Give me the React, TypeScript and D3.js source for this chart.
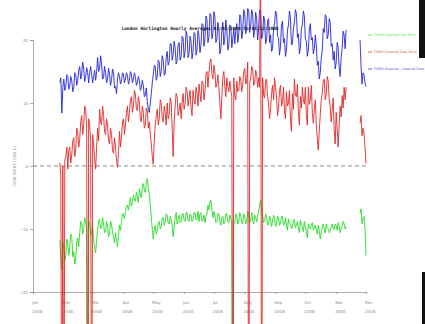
import React, { useEffect, useRef } from "react";
import * as d3 from "d3";

// daily readings from 28 Jan 2008 to 1 Dec 2008; null = no data
const startDate = new Date(2008, 0, 28);

const externalDew = [
  0.5, -1.5, -60, 0, -60, 1, 1.5, 3, -0.5, 2.5,
  3, 0.5, 1.8, 4, 4.5, 1.5, 2.5, 6, 5.5, 3,
  4.2, 7, 8, 5, 6.5, 9.5, 9, 6, -60, 7.5,
  6.5, 4, -60, 5, 3.5, 1, -0.5, 3, 6, 4,
  9, 7, 6.5, 9.5, 8, 5.5, 5, 7.5, 6.5, 4,
  3.5, 6, 5, 2.5, 2, 4.5, 3, 1, -0.2, 2,
  5.5, 3, 4.5, 7, 7.5, 5, 6.5, 8.5, 9.5, 7,
  8.5, 10.5, 11, 8.5, 9.5, 12, 11.5, 9, 8.8, 11,
  10, 7.5, 7, 9.5, 8.5, 6, 6.5, 9.2, 8.8, 6,
  7, 5, 3.5, 1.5, 0.3, 4, 6.5, 8, 9, 6.5,
  7.5, 10.5, 10, 7.5, 7, 9.5, 8.5, 6.5, 10, 7.5,
  8.2, 10.8, 10.2, 6, 1.5, 7, 9.5, 11.5, 11, 8,
  8.8, 10, 7.5, 10, 11.5, 9, 9.8, 12.5, 12, 9.5,
  10.8, 12, 9.2, 8, 12, 10.5, 9.8, 12.5, 11.5, 9.5,
  13, 11.5, 10.2, 13.5, 13.2, 10.5, 11.8, 14.5, 15, 12.5,
  14.8, 16.5, 17, 14.5, 13.8, 16, 15, 12.5, 13, 14.5,
  12.5, 10, 7.5, 11, 14.2, 15, 12.5, 11, 14, 12.5,
  11.8, 13.5, 12, 11, -60, 14, 11.2, 10.5, 13.5, 11.8,
  12, 14.2, 13.8, 11.8, 13, 15, 15.5, 13, 13.5, 16.5,
  -60, 13.2, 13.8, 15.8, 15.5, 12.8, 13.2, 15.2, 14.5, 12.5,
  14, 12.5, 40, -60, 14, 11.2, 10.8, 13.5, 13.8, 11,
  10, 7.5, 9, 11.5, 12.8, 10.5, 14, 12.5, 10.8, 8,
  9.2, 12, 12.8, 9.5, 10.2, 12.5, 8.8, 7.5, 11.8, 9.5,
  10, 12, 7.2, 5.5, 11.5, 9, 13.8, 11.2, 11, 13,
  8.5, 6.5, 11, 9.2, 12.5, 10.5, 9.8, 12.5, 8.2, 6.5,
  12.5, 9.8, 10.5, 12.8, 8.5, 6.8, 9, 10.5, 6.5, 4.5,
  2.5, 5.5, 8.2, 10.5, 11.5, 13.5, 13.8, 10.5, 11.5, 14.2,
  13.5, 10.5, 9.5, 7, 8.8, 10.8, 5.8, 3.5, 8.5, 6,
  3, 6.5, 9.5, 7.8, 11.2, 9.2, 12.5, 10.5, 12.5,
  null, null, null, null, null, null, null, null, null, null, null, null, null,
  6.8, 8, 4.8, 6, 5.2, 3, 0.4,
];

const internalDew = [
  -11.7, -14.5, -16.5, -12.2, -13, -15, -14.2, -11.6, -12.4, -14.2,
  -12.8, -10.8, -11.2, -14.4, -13.6, -15.6, -14.6, -12, -11.4, -12.8,
  -10.6, -8.8, -9.2, -10.8, -9.8, -8.2, -8.8, -10.2, -60, -8.6,
  -9.4, -11, -10.8, -9.6, -11.6, -13.2, -13.8, -11.8, -10.2, -8.8,
  -8.4, -10, -9.6, -8.2, -9.2, -10.6, -10.4, -8.8, -9.6, -11.2,
  -10.8, -8.8, -9.2, -10.6, -11.2, -12.2, -10.6, -11.8, -12.8, -11,
  -9.4, -10.2, -8.8, -7.6, -7.6, -8.4, -7.2, -6.4, -6.2, -7,
  -5.8, -5, -6.4, -5.6, -4.6, -5.4, -5.6, -4.2, -4.8, -5.8,
  -3.6, -4.4, -5, -3.4, -2.8, -3.8, -4.2, -2.6, -2, -3.4,
  -4.4, -6, -8.2, -10, -11.6, -10.2, -9.4, -10.8, -10.4, -9,
  -8.8, -10, -9.6, -8.2, -8.2, -9.4, -8.8, -7.6, -7.8, -9,
  -9.2, -8, -8.4, -9.4, -11.2, -9.6, -8.2, -7.4, -9.2, -8.4,
  -7.8, -9, -8.8, -7.6, -7.6, -8.6, -8.8, -7.4, -7.4, -8.6,
  -8.8, -7.6, -7.8, -8.8, -8.6, -7.4, -7.4, -8.6, -8.4, -7.2,
  -8.8, -7.6, -7.4, -8.8, -8.6, -7.8, -9, -8, -7.6, -6.2,
  -7, -5.6, -5.4, -7, -8.2, -7.2, -7.8, -9, -8.8, -7.6,
  -7.6, -8.8, -9.4, -8.2, -8, -9.2, -8.8, -7.6, -7.6, -8.8,
  -9, -7.8, -8.4, -8.6, -60, -9, -9, -7.6, -7.9, -9.2,
  -8.8, -7.4, -7.8, -9, -9.2, -7.6, -7.9, -9.2, -8.8, -7.2,
  -7.6, -9, -8.8, -7.4, -8.6, -9.2, -7.8, -8.2, -8.9, -7.8,
  -7.2, -6.2, -5.4, -7, -7.8, -9, -8.8, -7.6, -8.2, -9.4,
  -9.2, -8, -8.4, -9.6, -8.8, -7.8, -8.2, -9.6, -9.2, -8,
  -8.2, -9.4, -9.1, -8, -8, -9.4, -9.2, -8.2, -9.4, -10.2,
  -8.4, -9, -9.3, -10, -9.6, -8.6, -8.5, -9.8, -9.4, -8.8,
  -9.8, -10.6, -8.6, -9.2, -9.6, -10.4, -8.8, -9.6, -10.4, -11.4,
  -9.2, -9.6, -10, -9.4, -9, -10.2, -9.8, -9.4, -10.2, -10.8,
  -9.4, -10.2, -11.6, -10.4, -9.8, -9.2, -10, -10.6, -9.2, -9.8,
  -10, -10.6, -10.4, -9.6, -9.2, -10, -10.1, -9.2, -9.4, -10.2,
  -9, -9.6, -10.6, -9.8, -9.6, -8.8, -9.2, -10, -9.6,
  null, null, null, null, null, null, null, null, null, null, null, null, null,
  -7.6, -6.8, -9.2, -8.2, -8, -10, -14.2,
];

const differenceDew = [
  13.2, 14, 8.4, 12.5, 13.8, 12, 12.5, 14.5, 14.2, 12.2,
  12.8, 14.2, 13.5, 11.8, 12.4, 14.8, 14.5, 12.8, 13.6, 15.2,
  15.8, 13.8, 14.6, 16.5, 15.4, 13.4, 14.2, 15.6, 14.8, 13.2,
  14.8, 15.8, 14.5, 13.2, 14.2, 15.2, 13.6, 15, 17.2, 15,
  15.5, 17.5, 16.2, 13.8, 14, 15.8, 14.8, 13.2, 13.8, 15.5,
  14.6, 12.8, 13.6, 15.4, 14.8, 12.4, 12.6, 11.5, 13.8, 14.8,
  14.2, 13, 13.4, 14.8, 14.6, 13.2, 13.8, 14.8, 14.4, 13,
  13.6, 15, 14.6, 13.2, 13.8, 14.8, 14.2, 12.8, 13.2, 14.2,
  13.6, 12, 12.4, 13.6, 12.8, 11, 11.2, 12.4, 10.2, 9,
  8.5, 10, 11.5, 13.2, 14.5, 16, 15.8, 13.6, 14.2, 16.8,
  16.5, 14.2, 15, 17.5, 16.8, 14.4, 14.6, 17.2, 18.2, 16,
  16.6, 19.4, 19.4, 16.8, 17.6, 19.8, 18.8, 16.2, 16.8, 19.2,
  19.6, 16.8, 17.4, 20.6, 20.4, 17.2, 18.2, 21.4, 20.8, 17.2,
  17.8, 20.6, 19.8, 17, 18.2, 21.2, 21, 17.6, 18.4, 21.5,
  20.6, 18, 19.2, 22.6, 22.4, 19, 20.2, 23.8, 23.2, 19.6,
  20.6, 24.2, 24, 20.2, 21.2, 24.5, 23.6, 19.6, 20.2, 22.8,
  21.8, 17.8, 18.6, 21.6, 22.8, 19.2, 20.4, 23.2, 21.6, 18.4,
  19.2, 22.4, 22.2, 18.8, 20.2, 21.8, 19.4, 21.6, 22.6, 19.6,
  21, 24, 23.8, 20.2, 21.4, 24.8, 24.2, 21, 22, 25,
  24.6, 21.2, 22.2, 24.8, 24, 20.4, 21.6, 24.4, 23.4, 20,
  21.8, 24.8, 24.4, 20.2, 20.6, 23.8, 23.2, 19.4, 20, 23,
  23.4, 19.6, 20.8, 18.2, 18.6, 21.8, 22.6, 24.6, 24.2, 20.6,
  20.4, 17.6, 19, 22.4, 23, 19.6, 20.2, 17.4, 18.4, 21.6,
  22.4, 24.6, 23.6, 19.2, 19.4, 21.8, 22.8, 24.8, 24.2, 20.4,
  21, 17.8, 18.8, 21.8, 22.4, 24.6, 23.8, 20.2, 19.8, 17.4,
  18.4, 21.6, 22.6, 20, 20.4, 17.8, 18.6, 20.8, 19.2, 16,
  16.6, 13.8, 14.8, 17.2, 18.4, 21.8, 21.2, 24, 23.6, 20.2,
  20.8, 23.4, 22.8, 19, 19.4, 16.8, 18.2, 15.4, 16.4, 19.6,
  18.8, 15.6, 14.2, 17.2, 18.6, 21.4, 20.8, 18.6, 21.6,
  null, null, null, null, null, null, null, null, null, null, null, null, null,
  20, 16, 13, 14.8, 14.4, 13.2, 12.6,
];

const yTicks = [20, 10, 0, -10, -20];
const legendLabels = [
  "FDMS Internal Dew Point",
  "FDMS External Dew Point",
  "FDMS External - Internal Dew Point",
];
const title = "London Harlington Hourly Averages 01/01/2008 to 01/12/2008";
const yLabel = "DEW POINT (DEG C)";

const App = () => {
  const ref = useRef(null);

  useEffect(() => {
    const svg = d3.select(ref.current);
    svg.selectAll("*").remove();

    const width = 425, height = 324;
    svg.attr("width", width).attr("height", height)
      .style("position", "absolute").style("left", 0).style("top", 0);

    const x = d3
      .scaleTime()
      .domain([new Date(2008, 0, 1), new Date(2008, 11, 1)])
      .range([33, 366]);
    const y = d3.scaleLinear().domain([-20, 20]).range([292, 40]);

    const dates = externalDew.map((_, i) => d3.timeDay.offset(startDate, i));

    svg.append("rect").attr("width", width).attr("height", height).attr("fill", "#fff");

    const grey = "#8a8a8a";

    // y axis
    const yAxis = svg.append("g").attr("transform", `translate(${x.range()[0]},0)`)
      .call(d3.axisLeft(y).tickValues(yTicks).tickSize(3).tickPadding(2).tickFormat(d3.format("d")));
    yAxis.select(".domain").attr("stroke", grey).attr("stroke-width", 0.7);
    yAxis.selectAll(".tick line").attr("stroke", grey).attr("stroke-width", 0.7);
    yAxis.selectAll("text").attr("fill", grey).attr("font-size", 4).attr("font-family", "DejaVu Sans");

    svg.append("text")
      .attr("transform", `translate(16,${y(0)}) rotate(-90)`)
      .attr("text-anchor", "middle")
      .attr("font-family", "DejaVu Sans")
      .attr("font-size", 4)
      .attr("fill", grey)
      .text(yLabel);

    // x axis
    const months = d3.timeMonth.range(x.domain()[0], d3.timeDay.offset(x.domain()[1], 1));
    const xAxis = svg.append("g").attr("transform", `translate(0,${y.range()[0]})`)
      .call(d3.axisBottom(x).tickValues(months).tickSize(2).tickFormat(() => ""));
    xAxis.select(".domain").attr("stroke", grey).attr("stroke-width", 0.7);
    xAxis.selectAll(".tick line").attr("stroke", grey).attr("stroke-width", 0.7);
    const labels = svg.append("g")
      .attr("font-family", "DejaVu Sans").attr("font-size", 4).attr("fill", grey);
    labels.selectAll(".m").data(months).enter().append("text")
      .attr("x", d => x(d) - 1).attr("y", 304).text(d => d3.timeFormat("%b")(d));
    labels.selectAll(".yr").data(months).enter().append("text")
      .attr("x", d => x(d) - 1).attr("y", 313).text(d => d3.timeFormat("%Y")(d));

    // zero line
    svg.append("line")
      .attr("x1", x.range()[0]).attr("x2", x.range()[1])
      .attr("y1", y(0)).attr("y2", y(0))
      .attr("stroke", "#555").attr("stroke-width", 0.7).attr("stroke-dasharray", "4,3");

    const line = d3.line()
      .defined(d => d[1] != null)
      .x(d => x(d[0]))
      .y(d => y(d[1]));

    const series = [
      { values: internalDew, color: "#22dd22" },
      { values: differenceDew, color: "#2424dc" },
      { values: externalDew, color: "#e02828" },
    ];
    series.forEach(s => {
      svg.append("path")
        .datum(dates.map((d, i) => [d, s.values[i]]))
        .attr("fill", "none")
        .attr("stroke", s.color)
        .attr("stroke-width", 0.9)
        .attr("stroke-linejoin", "round")
        .attr("d", line);
    });

    // title sits over the data
    svg.append("text")
      .attr("x", 200).attr("y", 30)
      .attr("text-anchor", "middle")
      .attr("font-family", "DejaVu Sans Mono")
      .attr("font-weight", "bold")
      .attr("font-size", 4.5)
      .attr("fill", "#111")
      .text(title);

    // legend
    const legendColors = ["#22dd22", "#e02828", "#2424dc"];
    const legend = svg.append("g").attr("font-family", "DejaVu Sans").attr("font-size", 3.4);
    legendLabels.forEach((label, i) => {
      const ly = 35 + i * 17;
      legend.append("line")
        .attr("x1", 368).attr("x2", 372).attr("y1", ly).attr("y2", ly)
        .attr("stroke", legendColors[i]).attr("stroke-width", 0.7);
      legend.append("text")
        .attr("x", 374).attr("y", ly + 1.2)
        .attr("fill", legendColors[i]).attr("opacity", 0.8)
        .text(label);
    });

    // dark frame edge at right
    svg.append("rect").attr("x", 419).attr("y", 0).attr("width", 6).attr("height", 58).attr("fill", "#111");
    svg.append("rect").attr("x", 422).attr("y", 272).attr("width", 3).attr("height", 52).attr("fill", "#111");
  }, []);

  return <svg ref={ref}></svg>;
};

export default App;
